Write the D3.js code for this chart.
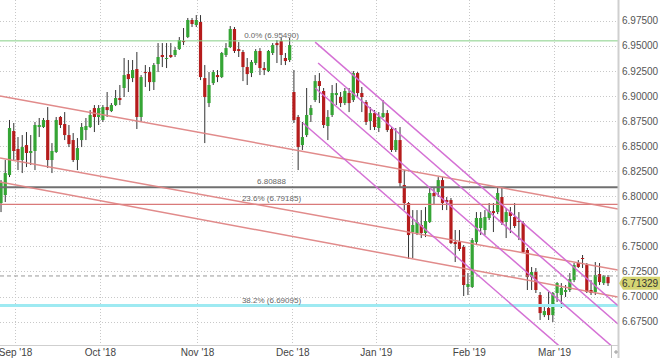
<!DOCTYPE html>
<html><head><meta charset="utf-8">
<script src="https://cdn.jsdelivr.net/npm/d3@7"></script>
<style>body{margin:0;background:#fff}svg{display:block}text{font-family:"Liberation Sans",Arial,sans-serif}</style>
</head><body><svg id="c" width="660" height="358"></svg>
<script>
// OHLC by trading-day index (Aug 30 2018 .. Mar 19 2019)
const openV=[6.7932,6.8012,6.8211,6.8650,6.8471,6.8361,6.8510,6.8431,6.8451,6.8690,6.8690,6.8760,6.8361,6.8441,6.8790,6.8720,6.8610,6.8560,6.8361,6.8560,6.8660,6.8690,6.8879,6.8790,6.8760,6.8889,6.8849,6.8909,6.8979,6.9079,6.9218,6.9178,6.9268,6.8790,6.9238,6.9238,6.9138,6.9318,6.9408,6.9368,6.9408,6.9408,6.9467,6.9547,6.9587,6.9757,6.9707,6.9737,6.9178,6.8929,6.9128,6.9208,6.9188,6.9408,6.9487,6.9667,6.9467,6.9438,6.9288,6.9228,6.9328,6.9448,6.9278,6.9248,6.9428,6.9527,6.9547,6.9378,6.9358,6.9039,6.8790,6.8510,6.8610,6.8810,6.8959,6.9148,6.9049,6.8700,6.8810,6.9009,6.8989,6.8929,6.9029,6.8959,6.9228,6.9029,6.8939,6.8750,6.8829,6.8680,6.8790,6.8829,6.8670,6.8461,6.8560,6.8112,6.7932,6.7643,6.7633,6.7713,6.7633,6.7743,6.8032,6.8042,6.8161,6.7962,6.7962,6.7543,6.7543,6.7494,6.7095,6.7095,6.7543,6.7683,6.7663,6.7783,6.7852,6.7842,6.7992,6.7743,6.7842,6.7793,6.7753,6.7733,6.7464,6.7194,6.7244,6.7015,6.6815,6.6885,6.6815,6.7035,6.7015,6.7045,6.7065,6.7164,6.7334,6.7384,6.7314,6.7065,6.7045,6.7224,6.7134,6.7194];
const highV=[6.8161,6.8361,6.8760,6.8730,6.8590,6.8610,6.8640,6.8610,6.8740,6.8780,6.8780,6.8889,6.8530,6.8790,6.8800,6.8839,6.8710,6.8630,6.8580,6.8730,6.8780,6.8859,6.8909,6.8909,6.8909,6.9039,6.8929,6.9059,6.9109,6.9378,6.9358,6.9358,6.9438,6.9208,6.9308,6.9288,6.9328,6.9527,6.9527,6.9527,6.9527,6.9487,6.9587,6.9677,6.9777,6.9777,6.9806,6.9806,6.9308,6.9238,6.9258,6.9258,6.9438,6.9527,6.9697,6.9687,6.9537,6.9458,6.9378,6.9358,6.9467,6.9477,6.9338,6.9458,6.9527,6.9557,6.9577,6.9428,6.9577,6.9258,6.8810,6.8740,6.9079,6.8909,6.9208,6.9228,6.9079,6.8859,6.9109,6.9128,6.9039,6.9079,6.9079,6.9248,6.9238,6.9089,6.8959,6.8889,6.8859,6.8839,6.8959,6.8859,6.8690,6.8680,6.8690,6.8261,6.7942,6.7862,6.7862,6.7862,6.7892,6.8082,6.8082,6.8191,6.8191,6.7992,6.7982,6.7663,6.7663,6.7513,6.7234,6.7583,6.7842,6.7842,6.7862,6.7932,6.7932,6.8082,6.8092,6.7882,6.7892,6.7932,6.7842,6.7753,6.7484,6.7294,6.7284,6.7045,6.6895,6.7045,6.7045,6.7144,6.7134,6.7115,6.7234,6.7334,6.7364,6.7414,6.7334,6.7164,6.7344,6.7334,6.7214,6.7214];
const lowV=[6.7842,6.7942,6.8191,6.8361,6.8261,6.8231,6.8291,6.8311,6.8261,6.8590,6.8680,6.8281,6.8231,6.8431,6.8680,6.8560,6.8490,6.8341,6.8261,6.8490,6.8560,6.8680,6.8640,6.8710,6.8740,6.8790,6.8839,6.8899,6.8909,6.8989,6.9039,6.9138,6.8670,6.8740,6.9089,6.9049,6.9059,6.9238,6.9288,6.9278,6.9378,6.9388,6.9458,6.9507,6.9577,6.9687,6.9687,6.9158,6.8530,6.8889,6.9109,6.9138,6.9178,6.9388,6.9477,6.9428,6.9388,6.9148,6.9109,6.9188,6.9308,6.9208,6.9208,6.9238,6.9408,6.9328,6.9308,6.9308,6.9338,6.8730,6.8261,6.8461,6.8590,6.8740,6.8939,6.8929,6.8680,6.8560,6.8790,6.8909,6.8889,6.8909,6.8839,6.8939,6.8989,6.8839,6.8710,6.8660,6.8660,6.8640,6.8780,6.8640,6.8441,6.8441,6.8082,6.7862,6.7374,6.7384,6.7613,6.7583,6.7593,6.7733,6.7912,6.7992,6.7862,6.7862,6.7523,6.7344,6.7454,6.7005,6.7015,6.7085,6.7513,6.7613,6.7613,6.7763,6.7643,6.7822,6.7713,6.7583,6.7633,6.7683,6.7563,6.7434,6.7065,6.7065,6.7035,6.6766,6.6795,6.6766,6.6746,6.6945,6.6885,6.6995,6.7045,6.7144,6.7284,6.7284,6.7035,6.7015,6.7015,6.7115,6.7115,6.7105];
const closeV=[6.8131,6.8231,6.8680,6.8451,6.8361,6.8490,6.8431,6.8451,6.8710,6.8710,6.8760,6.8361,6.8451,6.8760,6.8710,6.8610,6.8520,6.8361,6.8480,6.8690,6.8700,6.8810,6.8790,6.8879,6.8889,6.8859,6.8909,6.8979,6.8959,6.9208,6.9168,6.9258,6.8790,6.9188,6.9228,6.9138,6.9308,6.9388,6.9388,6.9378,6.9388,6.9458,6.9557,6.9537,6.9757,6.9717,6.9757,6.9188,6.8989,6.9109,6.9238,6.9188,6.9428,6.9477,6.9667,6.9448,6.9448,6.9288,6.9218,6.9338,6.9448,6.9278,6.9258,6.9448,6.9507,6.9507,6.9408,6.9348,6.9507,6.8760,6.8490,6.8590,6.8810,6.8879,6.9148,6.9099,6.8710,6.8790,6.9029,6.9029,6.8929,6.9049,6.8929,6.9228,6.9029,6.8989,6.8740,6.8829,6.8690,6.8790,6.8829,6.8660,6.8461,6.8560,6.8131,6.7932,6.7613,6.7713,6.7743,6.7633,6.7753,6.8032,6.8002,6.8161,6.7932,6.7942,6.7533,6.7523,6.7474,6.7115,6.7125,6.7563,6.7783,6.7783,6.7793,6.7852,6.7832,6.8032,6.7733,6.7842,6.7803,6.7703,6.7743,6.7444,6.7194,6.7244,6.7065,6.6835,6.6855,6.6815,6.7035,6.7134,6.7085,6.7065,6.7174,6.7314,6.7294,6.7374,6.7045,6.7035,6.7214,6.7144,6.7204,6.71329];

const priceTicks=[6.675,6.700,6.725,6.750,6.775,6.800,6.825,6.850,6.875,6.900,6.925,6.950,6.975];
const monthTickPos=[3.3,23.3,46.2,68.6,88.3,110.2,130.3];
const monthLabels=["Sep '18","Oct '18","Nov '18","Dec '18","Jan '19","Feb '19","Mar '19"];
const levelValues=[6.95490,6.80888,6.79185,6.69095];
const levelLabels=["0.0% (6.95490)","6.80888","23.6% (6.79185)","38.2% (6.69095)"];
const prevCloseLevel=6.7205;
const lastPrice=6.71329;
// trend lines as [index0, price0, index1, price1]
const redTrendLines=[[-0.24,6.8999,145.35,6.7872],[-0.24,6.8381,145.35,6.7264],[-0.24,6.8141,145.35,6.6995]];
const channelLines=[[74.0,6.9537,145.35,6.6909],[74.7,6.9328,145.35,6.6726],[74.0,6.9079,145.35,6.6451],[71.1,6.8730,145.35,6.5998]];

const W=618,H=345;
const svg=d3.select("#c");
const x=d3.scaleLinear().domain([-0.24,145.35]).range([0,W]);
const y=d3.scaleLinear().domain([6.65167,6.99564]).range([H,0]);

svg.append("defs").append("clipPath").attr("id","plot").append("rect").attr("x",0).attr("y",0).attr("width",W).attr("height",H);

// grid
const g=svg.append("g");
g.selectAll(".hg").data(priceTicks).join("line").attr("x1",0).attr("x2",W)
 .attr("y1",d=>Math.round(y(d))+0.5).attr("y2",d=>Math.round(y(d))+0.5)
 .attr("stroke","#c8c8c8").attr("stroke-dasharray","1,2");
g.selectAll(".vg").data(monthTickPos).join("line").attr("y1",0).attr("y2",H)
 .attr("x1",d=>Math.round(x(d))+0.5).attr("x2",d=>Math.round(x(d))+0.5)
 .attr("stroke","#c8c8c8").attr("stroke-dasharray","1,2");

const plot=svg.append("g").attr("clip-path","url(#plot)");

// candles
const data=openV.map((o,i)=>({i,o,h:highV[i],l:lowV[i],c:closeV[i]}));
const cg=plot.append("g");
cg.selectAll(".w").data(data).join("line")
 .attr("x1",d=>x(d.i)).attr("x2",d=>x(d.i)).attr("y1",d=>y(d.h)).attr("y2",d=>y(d.l))
 .attr("stroke","#333").attr("stroke-width",1);
cg.selectAll(".b").data(data).join("rect")
 .attr("x",d=>x(d.i)-1.6).attr("width",3.2)
 .attr("y",d=>y(Math.max(d.o,d.c)))
 .attr("height",d=>Math.max(1,Math.abs(y(d.o)-y(d.c))))
 .attr("fill",d=>d.c>=d.o?"#35a535":"#b51c1c");

// previous close dashed
plot.append("line").attr("x1",0).attr("x2",W).attr("y1",y(prevCloseLevel)).attr("y2",y(prevCloseLevel))
 .attr("stroke","#999").attr("stroke-dasharray","4,3");

// levels
const levelColors=["#86cf86","#707070","#d97a7a","#9eeaf2"];
const levelWidths=[1,2,1.2,3];
plot.selectAll(".lv").data(levelValues).join("line").attr("x1",0).attr("x2",W)
 .attr("y1",d=>y(d)).attr("y2",d=>y(d))
 .attr("stroke",(d,i)=>levelColors[i]).attr("stroke-width",(d,i)=>levelWidths[i]);

// red trend lines
plot.selectAll(".tl").data(redTrendLines).join("line")
 .attr("x1",d=>x(d[0])).attr("y1",d=>y(d[1])).attr("x2",d=>x(d[2])).attr("y2",d=>y(d[3]))
 .attr("stroke","#e08585").attr("stroke-width",1.5).attr("opacity",0.95);
// channel
plot.selectAll(".ch").data(channelLines).join("line")
 .attr("x1",d=>x(d[0])).attr("y1",d=>y(d[1])).attr("x2",d=>x(d[2])).attr("y2",d=>y(d[3]))
 .attr("stroke","#d36ad3").attr("stroke-width",1.5).attr("opacity",0.95);

// level labels
svg.selectAll(".ll").data(levelValues).join("text")
 .attr("x",271.5).attr("y",d=>y(d)-3).attr("text-anchor","middle")
 .attr("font-size",8).attr("fill","#666").text((d,i)=>levelLabels[i]);

// axes frame
svg.append("line").attr("x1",W+0.5).attr("x2",W+0.5).attr("y1",0).attr("y2",358).attr("stroke","#cfcfcf").attr("stroke-width",2);
svg.append("line").attr("x1",0).attr("x2",W).attr("y1",H+0.5).attr("y2",H+0.5).attr("stroke","#cfcfcf");

// right axis
const ya=svg.append("g").attr("transform",`translate(${W},0)`)
 .call(d3.axisRight(y).tickValues(priceTicks).tickFormat(d3.format(".5f")).tickSize(0).tickPadding(4));
ya.select(".domain").remove();
ya.selectAll("text").attr("font-size",10).attr("fill","#555").attr("font-family","Liberation Sans, Arial, sans-serif");

// bottom axis
const xa=svg.append("g").attr("transform",`translate(0,${H})`)
 .call(d3.axisBottom(x).tickValues(monthTickPos).tickFormat((d,i)=>monthLabels[i]).tickSize(0).tickPadding(4));
xa.select(".domain").remove();
xa.selectAll("text").attr("font-size",10).attr("fill","#444").attr("font-family","Liberation Sans, Arial, sans-serif");

// end marker
svg.append("line").attr("x1",611.5).attr("x2",611.5).attr("y1",H).attr("y2",358).attr("stroke","#bbb");
svg.append("path").attr("d","M614,352 l4,0 M616,350 l0,4").attr("stroke","#999").attr("stroke-width",1);

// last price tag
const ly=y(lastPrice);
svg.append("path").attr("d",`M${W+1},${ly} L${W+5},${ly-6.5} L660,${ly-6.5} L660,${ly+6.5} L${W+5},${ly+6.5} Z`).attr("fill","#d5d572");
svg.append("text").attr("x",W+4).attr("y",ly+3.6).attr("font-size",10).attr("fill","#333").text(d3.format(".5f")(lastPrice));
</script></body></html>
